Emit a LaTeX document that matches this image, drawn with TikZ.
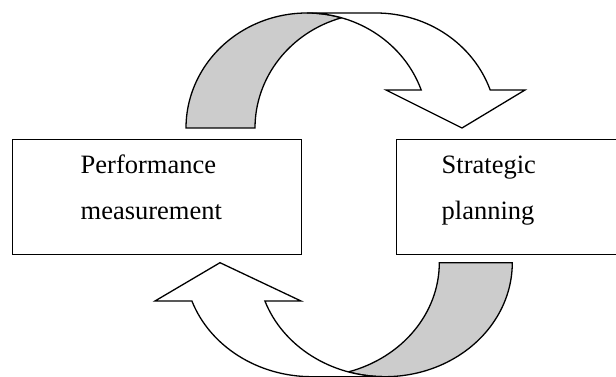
\documentclass[tikz,border=0pt]{standalone}
\usepackage{xcolor}
\usepackage{tikz}
\usepackage{fontspec}
\setmainfont{Liberation Serif}
\definecolor{bandgray}{RGB}{204, 204, 204}
\usetikzlibrary{positioning,calc}

\begin{document}
\begin{tikzpicture}[
    x=1pt, y=1pt,
    line width=1.3pt,
    stage/.style={
        rectangle,
        draw=black,
        minimum width=289pt,
        minimum height=115pt,
        inner sep=0pt
    },
    caption/.style={anchor=base west,align=left,inner sep=0pt,font=\fontsize{26.5}{46}\selectfont},
    band/.style={draw=black,fill=bandgray},
    curl/.style={draw=black,fill=white},
    upring/.style={x radius=121,y radius=115},
    lowring/.style={x radius=127.4,y radius=114}
]
    \useasboundingbox (0,0) rectangle (616,377);
    % Boxes
    \node[stage] (measure) at (157.2,180.1) {};
    \node[stage] (planning) at (541.2,180.1) {};
    \node[caption] (measuretext) at ($(measure.north west)+(68,-80.5)$) {Performance\\measurement};
    \node[caption] (planningtext) at ($(planning.north west)+(45,-80.5)$) {Strategic\\planning};

    % Upper arrow
    \filldraw[band] (186,249) arc[start angle=180,end angle=73.43,upring] arc[start angle=106.57,end angle=180,upring] -- cycle;
    \filldraw[curl] (307,364) arc[start angle=90,end angle=19.3,upring] -- (386,287) -- (462,249) -- (525,287) -- (490.2,287) arc[start angle=19.3,end angle=90,upring] -- cycle;

    % Lower arrow
    \filldraw[band] (512.3,114.3) arc[start angle=0,end angle=-106.65,lowring] arc[start angle=-73.35,end angle=0,lowring] -- cycle;
    \filldraw[curl] (384.9,0.3) arc[start angle=270,end angle=199.63,lowring] -- (301,76) -- (220,114.3) -- (155,76) -- (191.9,76) arc[start angle=199.63,end angle=270,lowring] -- cycle;
\end{tikzpicture}
\end{document}
